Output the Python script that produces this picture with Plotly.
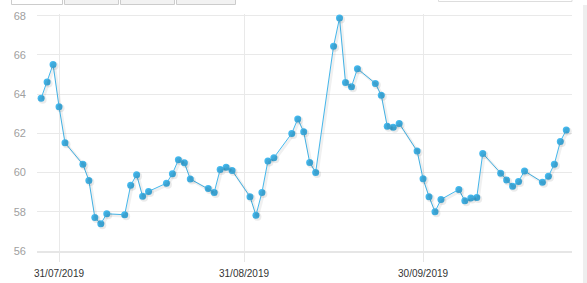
import plotly.graph_objects as go
import pandas as pd

dates = ["2019-07-28","2019-07-29","2019-07-30","2019-07-31","2019-08-01",
         "2019-08-04","2019-08-05","2019-08-06","2019-08-07","2019-08-08",
         "2019-08-11","2019-08-12","2019-08-13","2019-08-14","2019-08-15",
         "2019-08-18","2019-08-19","2019-08-20","2019-08-21","2019-08-22",
         "2019-08-25","2019-08-26","2019-08-27","2019-08-28","2019-08-29",
         "2019-09-01","2019-09-02","2019-09-03","2019-09-04","2019-09-05",
         "2019-09-08","2019-09-09","2019-09-10","2019-09-11","2019-09-12",
         "2019-09-15","2019-09-16","2019-09-17","2019-09-18","2019-09-19",
         "2019-09-22","2019-09-23","2019-09-24","2019-09-25","2019-09-26",
         "2019-09-29","2019-09-30","2019-10-01","2019-10-02","2019-10-03",
         "2019-10-06","2019-10-07","2019-10-08","2019-10-09","2019-10-10",
         "2019-10-13","2019-10-14","2019-10-15","2019-10-16","2019-10-17",
         "2019-10-20","2019-10-21","2019-10-22","2019-10-23","2019-10-24"]

values = [63.79,64.62,65.52,63.36,61.52,
          60.42,59.60,57.71,57.39,57.90,
          57.85,59.35,59.89,58.79,59.04,
          59.46,59.94,60.65,60.50,59.67,
          59.19,58.99,60.16,60.27,60.11,
          58.77,57.82,58.99,60.59,60.76,
          62.00,62.74,62.08,60.52,60.01,
          66.44,67.88,64.60,64.38,65.30,
          64.55,63.94,62.36,62.31,62.51,
          61.10,59.68,58.77,58.00,58.63,
          59.14,58.56,58.70,58.73,60.98,
          59.97,59.62,59.30,59.55,60.08,
          59.51,59.81,60.43,61.59,62.17]

x_tick_vals = ["2019-07-31", "2019-08-31", "2019-09-30"]
x_tick_text = ["31/07/2019", "31/08/2019", "30/09/2019"]
y_tick_vals = [56, 58, 60, 62, 64, 66, 68]

W, H = 587, 283
L, R, T, B = 37, 15, 14, 32
PW, PH = W - L - R, H - T - B

x0 = pd.Timestamp("2019-07-27 07:26")
x1 = pd.Timestamp("2019-10-24 23:02")
y0, y1 = 56.0, 68.09

# shadow offset (pixels) converted through the axis scale
sx, sy = 1.5, 1.5
day_per_px = (x1 - x0) / PW
unit_per_px = (y1 - y0) / PH
xs0, xs1 = x0 - day_per_px * sx, x1 - day_per_px * sx
ys0, ys1 = y0 + unit_per_px * sy, y1 + unit_per_px * sy

blue = "#45b9ee"

fig = go.Figure()
fig.add_trace(go.Scatter(
    x=dates, y=values, mode="lines+markers", xaxis="x2", yaxis="y2",
    line=dict(color="rgba(0,0,0,0.06)", width=3),
    marker=dict(size=8, color="rgba(0,0,0,0.08)", line=dict(width=0)),
    hoverinfo="skip", showlegend=False))
fig.add_trace(go.Scatter(
    x=dates, y=values, mode="lines+markers",
    line=dict(color=blue, width=1),
    marker=dict(size=7, color=blue, line=dict(width=0)),
    showlegend=False))

def px_x(p):
    return (p - L) / PW

def px_y(p):
    return (H - B - p) / PH

shapes = []
# range selector buttons (cut at top)
btns = [(11.5, 62.5, "#ffffff"), (64.5, 118.5, "#f2f2f2"),
        (120.5, 174.5, "#f2f2f2"), (176.5, 235.5, "#f2f2f2")]
for a, b, c in btns:
    shapes.append(dict(type="rect", xref="paper", yref="paper",
                       x0=px_x(a), x1=px_x(b), y0=px_y(4.5), y1=px_y(-20),
                       fillcolor=c, line=dict(color="#cccccc", width=1), layer="above"))
# date input box
shapes.append(dict(type="rect", xref="paper", yref="paper",
                   x0=px_x(438.5), x1=px_x(572), y0=px_y(1.5), y1=px_y(-20),
                   fillcolor="#ffffff", line=dict(color="#dddddd", width=1), layer="above"))
# right scrollbar strip
shapes.append(dict(type="rect", xref="paper", yref="paper",
                   x0=px_x(583), x1=px_x(590), y0=px_y(290), y1=px_y(5),
                   fillcolor="#eeeeee", line=dict(width=0), layer="above"))

fig.update_layout(
    width=W, height=H,
    margin=dict(l=L, r=R, t=T, b=B, pad=0, autoexpand=False),
    paper_bgcolor="white", plot_bgcolor="white",
    font=dict(family="Liberation Sans, Arial, sans-serif"),
    shapes=shapes,
    xaxis=dict(
        type="date", range=[x0, x1], automargin=False,
        tickmode="array", tickvals=x_tick_vals, ticktext=x_tick_text,
        showgrid=True, gridcolor="#e9e9e9", gridwidth=1,
        showline=True, linecolor="#e6e6e6", linewidth=2,
        ticks="outside", ticklen=9, tickcolor="#e6e6e6", tickwidth=1,
        ticklabelstandoff=3,
        tickfont=dict(size=10, color="#333333"),
        zeroline=False, fixedrange=True),
    yaxis=dict(
        range=[y0, y1], tickmode="array", tickvals=y_tick_vals, automargin=False,
        showgrid=True, gridcolor="#e9e9e9", gridwidth=1,
        showline=False, zeroline=False,
        ticks="", ticklabelstandoff=10,
        tickfont=dict(size=11, color="#a0a0a0"), fixedrange=True),
    xaxis2=dict(type="date", range=[xs0, xs1], overlaying="x", visible=False,
                fixedrange=True),
    yaxis2=dict(range=[ys0, ys1], overlaying="y", visible=False, fixedrange=True),
)

fig.write_html("out.html", config={"displayModeBar": False})
